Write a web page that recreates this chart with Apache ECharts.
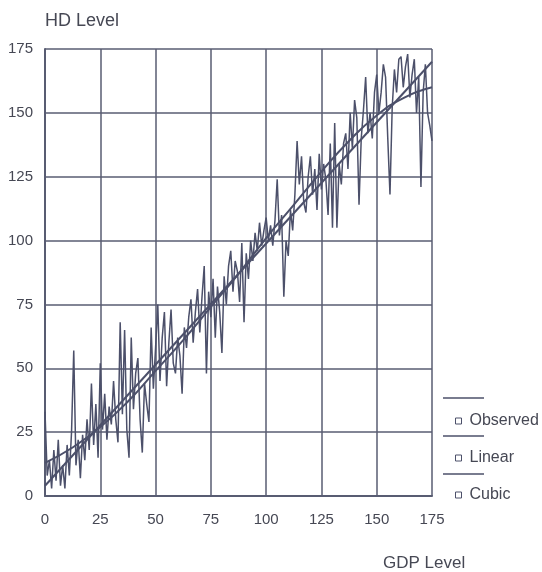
<!DOCTYPE html>
<html><head><meta charset="utf-8">
<script src="https://cdn.jsdelivr.net/npm/echarts@6/dist/echarts.min.js"></script>
<style>html,body{margin:0;padding:0;background:#fff}#c{width:542px;height:572px}</style>
</head><body><div id="c"></div>
<script>
// Axis ticks
const xTicks = [0, 25, 50, 75, 100, 125, 150, 175];
const yTicks = [0, 25, 50, 75, 100, 125, 150, 175];
// Observed HD level, one value per GDP level 0..175 (step 1)
const obsStartX = 0;
const obsStepX = 1;
const observedY = [
 33, 8, 14, 3, 18, 6, 22, 4, 12, 3,
 20, 8, 25, 57, 12, 22, 7, 24, 14, 30,
 18, 44, 20, 36, 15, 52, 26, 40, 22, 35,
 28, 45, 30, 21, 68, 32, 65, 26, 15, 62,
 34, 48, 54, 30, 17, 44, 36, 29, 66, 42,
 58, 75, 45, 62, 72, 43, 60, 73, 52, 48,
 62, 55, 40, 66, 58, 70, 77, 60, 72, 81,
 64, 78, 90, 48, 80, 70, 85, 62, 82, 72,
 56, 86, 75, 90, 96, 80, 92, 88, 76, 99,
 68, 95, 85, 100, 92, 103, 96, 107, 98, 104,
 109, 100, 106, 98, 108, 124, 102, 110, 78, 100,
 94, 112, 104, 118, 139, 122, 133, 115, 111, 125,
 133, 118, 128, 112, 134, 120, 130, 124, 110, 138,
 105, 146, 105, 130, 122, 138, 142, 128, 150, 136,
 155, 148, 114, 140, 151, 164, 142, 150, 140, 158,
 165, 150, 158, 169, 164, 140, 118, 152, 167, 158,
 171, 172, 160, 168, 173, 156, 165, 171, 150, 164,
 121, 158, 169, 150, 145, 139
];
// Linear fit (end points)
const linearX = [0, 175];
const linearY = [4, 170];
// Cubic fit
const cubicX = [0, 12.5, 25, 37.5, 50, 62.5, 75, 87.5, 100, 112.5, 125, 137.5, 150, 162.5, 175];
const cubicY = [13, 19, 27, 37, 49, 61, 74, 87, 101, 114, 127, 139, 149, 156, 160];

const observed = observedY.map((v, i) => [obsStartX + i * obsStepX, v]);
const linear = linearX.map((x, i) => [x, linearY[i]]);
const cubic = cubicX.map((x, i) => [x, cubicY[i]]);

const ink = '#4c506a';
const gridc = '#585c72';
const txt = '#464854';
const font = 'Liberation Sans, Arial, sans-serif';

const chart = echarts.init(document.getElementById('c'), null, {renderer: 'canvas'});
chart.setOption({
  backgroundColor: '#fff',
  animation: false,
  grid: {left: 45, right: 110, top: 49, bottom: 76},
  xAxis: {
    type: 'value', min: 0, max: 175, interval: 25,
    axisLine: {show: true, lineStyle: {color: gridc, width: 2}},
    axisTick: {show: false},
    splitLine: {show: true, lineStyle: {color: gridc, width: 1.5}},
    axisLabel: {color: txt, fontFamily: font, fontSize: 15, margin: 16,
      formatter: v => xTicks.includes(v) ? String(v) : ''}
  },
  yAxis: {
    type: 'value', min: 0, max: 175, interval: 25,
    axisLine: {show: true, lineStyle: {color: gridc, width: 2}},
    axisTick: {show: false},
    splitLine: {show: true, lineStyle: {color: gridc, width: 1.5}},
    axisLabel: {color: txt, fontFamily: font, fontSize: 15, margin: 12,
      formatter: v => yTicks.includes(v) ? String(v) : ''}
  },
  legend: {
    orient: 'vertical', left: 450, top: 408, itemGap: 21,
    icon: 'rect', itemWidth: 6, itemHeight: 6,
    itemStyle: {color: '#fff', borderColor: ink, borderWidth: 1},
    textStyle: {color: txt, fontFamily: font, fontSize: 16, padding: [0, 0, 0, 3]},
    data: ['Observed', 'Linear', 'Cubic']
  },
  graphic: [
    {type: 'text', left: 45, top: 12, style: {text: 'HD Level', fill: txt, font: '18px ' + font}},
    {type: 'text', left: 383, top: 555, style: {text: 'GDP Level', fill: txt, font: '17px ' + font}},
    {type: 'line', shape: {x1: 443, y1: 398, x2: 484, y2: 398}, style: {stroke: ink, lineWidth: 1.5}},
    {type: 'line', shape: {x1: 443, y1: 436, x2: 484, y2: 436}, style: {stroke: ink, lineWidth: 1.5}},
    {type: 'line', shape: {x1: 443, y1: 474, x2: 484, y2: 474}, style: {stroke: ink, lineWidth: 1.5}}
  ],
  series: [
    {name: 'Observed', type: 'line', data: observed, showSymbol: false, symbol: 'none',
      lineStyle: {color: ink, width: 1.5}, itemStyle: {color: ink}},
    {name: 'Linear', type: 'line', data: linear, showSymbol: false, symbol: 'none',
      lineStyle: {color: ink, width: 2}, itemStyle: {color: ink}},
    {name: 'Cubic', type: 'line', data: cubic, smooth: true, showSymbol: false, symbol: 'none',
      lineStyle: {color: ink, width: 2}, itemStyle: {color: ink}}
  ]
});
</script></body></html>
